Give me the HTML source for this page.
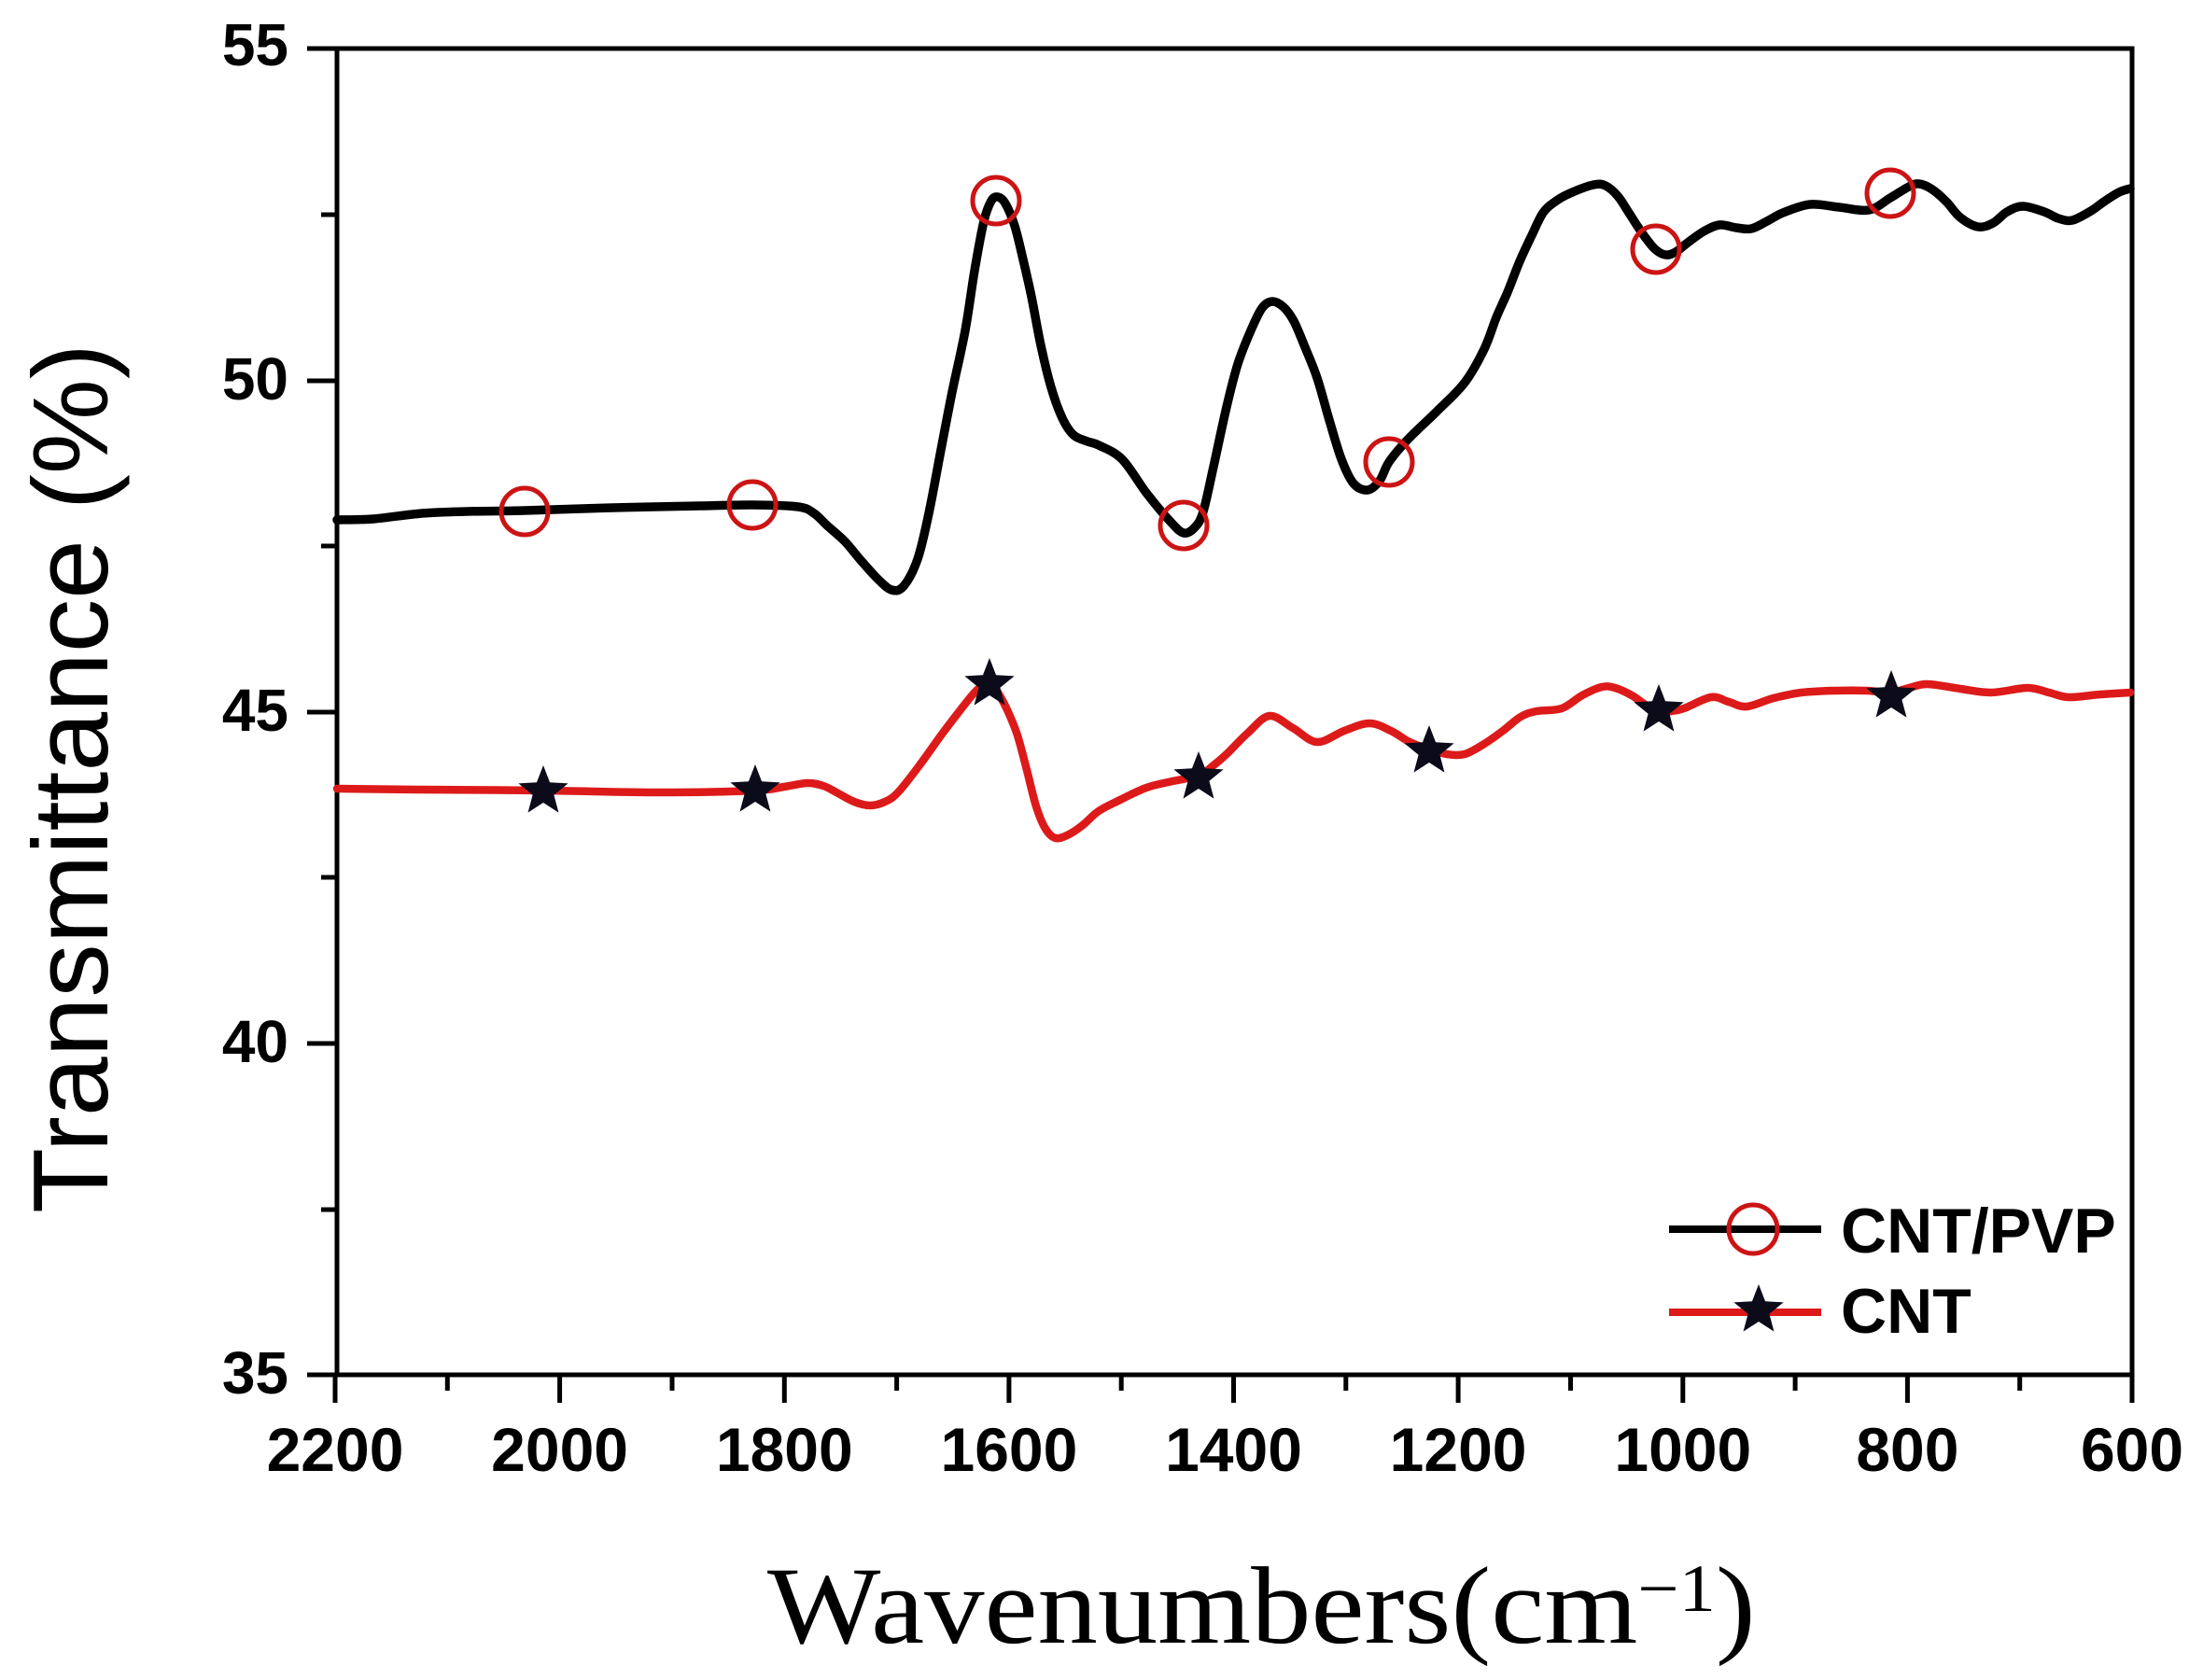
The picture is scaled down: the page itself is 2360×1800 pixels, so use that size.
<!DOCTYPE html>
<html>
<head>
<meta charset="utf-8">
<style>
  html, body { margin: 0; padding: 0; background: #ffffff; }
  svg { display: block; }
</style>
</head>
<body>
<svg width="2360" height="1800" viewBox="0 0 2360 1800" xmlns="http://www.w3.org/2000/svg">
  <defs>
    <path id="star" d="M0,-28 L7.05,-9.71 L26.63,-8.65 L11.41,3.71 L16.46,22.65 L0,12 L-16.46,22.65 L-11.41,3.71 L-26.63,-8.65 L-7.05,-9.71 Z"/>
  </defs>
  <rect x="0" y="0" width="2360" height="1800" fill="#ffffff"/>

  <!-- Axes frame -->
  <rect x="361" y="52" width="1923" height="1421" fill="none" stroke="#000" stroke-width="5"/>

  <!-- Y ticks -->
  <g stroke="#000" stroke-width="5">
    <line x1="329" y1="52" x2="361" y2="52"/>
    <line x1="329" y1="408" x2="361" y2="408"/>
    <line x1="329" y1="763" x2="361" y2="763"/>
    <line x1="329" y1="1118" x2="361" y2="1118"/>
    <line x1="329" y1="1473" x2="361" y2="1473"/>
    <line x1="344" y1="230" x2="361" y2="230"/>
    <line x1="344" y1="585" x2="361" y2="585"/>
    <line x1="344" y1="940" x2="361" y2="940"/>
    <line x1="344" y1="1296" x2="361" y2="1296"/>
  </g>

  <!-- X ticks -->
  <g stroke="#000" stroke-width="5">
    <line x1="359" y1="1473" x2="359" y2="1503"/>
    <line x1="599.6" y1="1473" x2="599.6" y2="1503"/>
    <line x1="840.3" y1="1473" x2="840.3" y2="1503"/>
    <line x1="1080.9" y1="1473" x2="1080.9" y2="1503"/>
    <line x1="1321.5" y1="1473" x2="1321.5" y2="1503"/>
    <line x1="1562.1" y1="1473" x2="1562.1" y2="1503"/>
    <line x1="1802.8" y1="1473" x2="1802.8" y2="1503"/>
    <line x1="2043.4" y1="1473" x2="2043.4" y2="1503"/>
    <line x1="2284" y1="1473" x2="2284" y2="1503"/>
    <line x1="479.3" y1="1473" x2="479.3" y2="1490"/>
    <line x1="720" y1="1473" x2="720" y2="1490"/>
    <line x1="960.6" y1="1473" x2="960.6" y2="1490"/>
    <line x1="1201.2" y1="1473" x2="1201.2" y2="1490"/>
    <line x1="1441.8" y1="1473" x2="1441.8" y2="1490"/>
    <line x1="1682.5" y1="1473" x2="1682.5" y2="1490"/>
    <line x1="1923.1" y1="1473" x2="1923.1" y2="1490"/>
    <line x1="2163.7" y1="1473" x2="2163.7" y2="1490"/>
  </g>

  <!-- Y tick labels -->
  <g font-family="Liberation Sans, Arial, sans-serif" font-weight="bold" font-size="64" fill="#000" text-anchor="end">
    <text x="309" y="70">55</text>
    <text x="309" y="428">50</text>
    <text x="309" y="783">45</text>
    <text x="309" y="1138">40</text>
    <text x="309" y="1493">35</text>
  </g>

  <!-- X tick labels -->
  <g font-family="Liberation Sans, Arial, sans-serif" font-weight="bold" font-size="66" fill="#000" text-anchor="middle">
    <text x="359" y="1576">2200</text>
    <text x="599.6" y="1576">2000</text>
    <text x="840.3" y="1576">1800</text>
    <text x="1080.9" y="1576">1600</text>
    <text x="1321.5" y="1576">1400</text>
    <text x="1562.1" y="1576">1200</text>
    <text x="1802.8" y="1576">1000</text>
    <text x="2043.4" y="1576">800</text>
    <text x="2284" y="1576">600</text>
  </g>

  <!-- Axis titles -->
  <text transform="translate(115,834) rotate(-90)" text-anchor="middle" font-family="Liberation Sans, Arial, sans-serif" font-size="114" fill="#000" textLength="932" lengthAdjust="spacingAndGlyphs">Transmittance (%)</text>
  <text transform="translate(822,1760) scale(1.09,1)" x="0" y="0" font-family="Liberation Serif, Times New Roman, serif" font-size="118" fill="#000">Wavenumbers(cm<tspan font-size="72" dy="-34">−1</tspan><tspan dy="34">)</tspan></text>

  <!-- CNT/PVP (black) -->
  <polyline id="blk" fill="none" stroke="#000" stroke-width="9.5" stroke-linejoin="round" stroke-linecap="round" points="
    361,557 400,556 452,550 500,548 562,547 656,544 750,542 806,541 855,543 872,550 886,563 905,580 921,599 940,620 955,632 968,628 983,599 995,550 1008,482 1020,420 1034,354 1044,290 1054,237 1062,215 1069,211 1077,218 1087,242 1096,278 1105,318 1115,370 1126,415 1138,448 1150,466 1165,473 1177,477 1202,492 1228,528 1253,558 1268,571 1280,565 1289,548 1300,500 1314,436 1326,390 1340,354 1352,330 1363,323 1375,329 1386,344 1398,372 1411,405 1424,450 1437,492 1450,518 1465,525 1478,515 1488,495 1508,471 1539,441 1569,410 1590,374 1603,340 1615,313 1628,280 1641,252 1653,228 1666,216 1682,207 1707,198 1720,199 1733,210 1745,228 1758,248 1772,266 1784,273 1795,270 1808,260 1825,248 1842,241 1860,244 1876,245 1893,237 1910,228 1939,219 1970,222 2002,225 2025,212 2045,200 2056,197 2070,203 2085,216 2100,233 2119,243 2135,239 2150,227 2167,221 2190,227 2205,234 2220,236 2240,226 2254,216 2270,206 2282,202"/>

  <!-- CNT (red) -->
  <polyline id="red" fill="none" stroke="#dd1a1a" stroke-width="8.5" stroke-linejoin="round" stroke-linecap="round" points="
    361,845 450,846 582,847 707,849 809,847 840,843 865,839 882,842 896,849 915,859 932,863 948,859 962,849 985,820 1008,788 1027,763 1044,742 1055,733 1062,732 1072,747 1081,765 1090,788 1100,825 1110,864 1120,888 1131,898 1145,894 1160,884 1177,869 1200,857 1228,844 1256,837 1284,831 1300,820 1314,808 1337,785 1360,767 1385,780 1411,795 1440,783 1467,775 1490,783 1510,795 1531,803 1550,808 1569,808 1590,797 1610,783 1629,768 1646,762 1673,759 1695,745 1716,736 1730,737 1748,745 1764,756 1777,763 1790,762 1804,759 1833,747 1852,752 1871,757 1900,748 1930,742 1965,740 2000,740 2025,742 2045,737 2065,733 2100,738 2133,742 2172,737 2195,742 2216,747 2250,744 2282,742"/>

  <!-- Circle markers -->
  <g fill="none" stroke="#cc1414" stroke-width="5">
    <circle cx="562" cy="548" r="25"/>
    <circle cx="806" cy="541" r="25"/>
    <circle cx="1067" cy="215" r="25"/>
    <circle cx="1268" cy="563" r="25"/>
    <circle cx="1488" cy="495" r="25"/>
    <circle cx="1774" cy="267" r="25"/>
    <circle cx="2025" cy="207" r="25"/>
  </g>

  <!-- Star markers -->
  <g fill="#0b0b1a">
    <use href="#star" x="582" y="848"/>
    <use href="#star" x="809" y="847"/>
    <use href="#star" x="1060" y="733"/>
    <use href="#star" x="1284" y="833"/>
    <use href="#star" x="1531" y="805"/>
    <use href="#star" x="1777" y="761"/>
    <use href="#star" x="2026" y="746"/>
  </g>

  <!-- Legend -->
  <line x1="1788" y1="1317" x2="1951" y2="1317" stroke="#000" stroke-width="8"/>
  <circle cx="1878" cy="1317" r="26" fill="none" stroke="#cc1414" stroke-width="5"/>
  <text x="1972" y="1342" font-family="Liberation Sans, Arial, sans-serif" font-weight="bold" font-size="68" fill="#000">CNT/PVP</text>

  <line x1="1788" y1="1406" x2="1951" y2="1406" stroke="#dd1a1a" stroke-width="8"/>
  <use href="#star" x="1884" y="1404" fill="#0b0b1a"/>
  <text x="1972" y="1428" font-family="Liberation Sans, Arial, sans-serif" font-weight="bold" font-size="68" fill="#000">CNT</text>
</svg>
<script>
(function(){
  function smooth(id){
    var pl=document.getElementById(id);
    if(!pl) return;
    var pts=pl.getAttribute('points').trim().split(/\s+/).map(function(p){return p.split(',').map(Number);});
    var d='M'+pts[0][0]+','+pts[0][1];
    for(var i=0;i<pts.length-1;i++){
      var p0=pts[i-1]||pts[i],p1=pts[i],p2=pts[i+1],p3=pts[i+2]||p2;
      var c1x=p1[0]+(p2[0]-p0[0])/6,c1y=p1[1]+(p2[1]-p0[1])/6;
      var c2x=p2[0]-(p3[0]-p1[0])/6,c2y=p2[1]-(p3[1]-p1[1])/6;
      d+='C'+c1x.toFixed(2)+','+c1y.toFixed(2)+' '+c2x.toFixed(2)+','+c2y.toFixed(2)+' '+p2[0]+','+p2[1];
    }
    var path=document.createElementNS('http://www.w3.org/2000/svg','path');
    path.setAttribute('d',d);
    ['fill','stroke','stroke-width','stroke-linejoin','stroke-linecap'].forEach(function(a){path.setAttribute(a,pl.getAttribute(a));});
    pl.parentNode.replaceChild(path,pl);
  }
  try{smooth('blk');smooth('red');}catch(e){}
})();
</script>
</body>
</html>
